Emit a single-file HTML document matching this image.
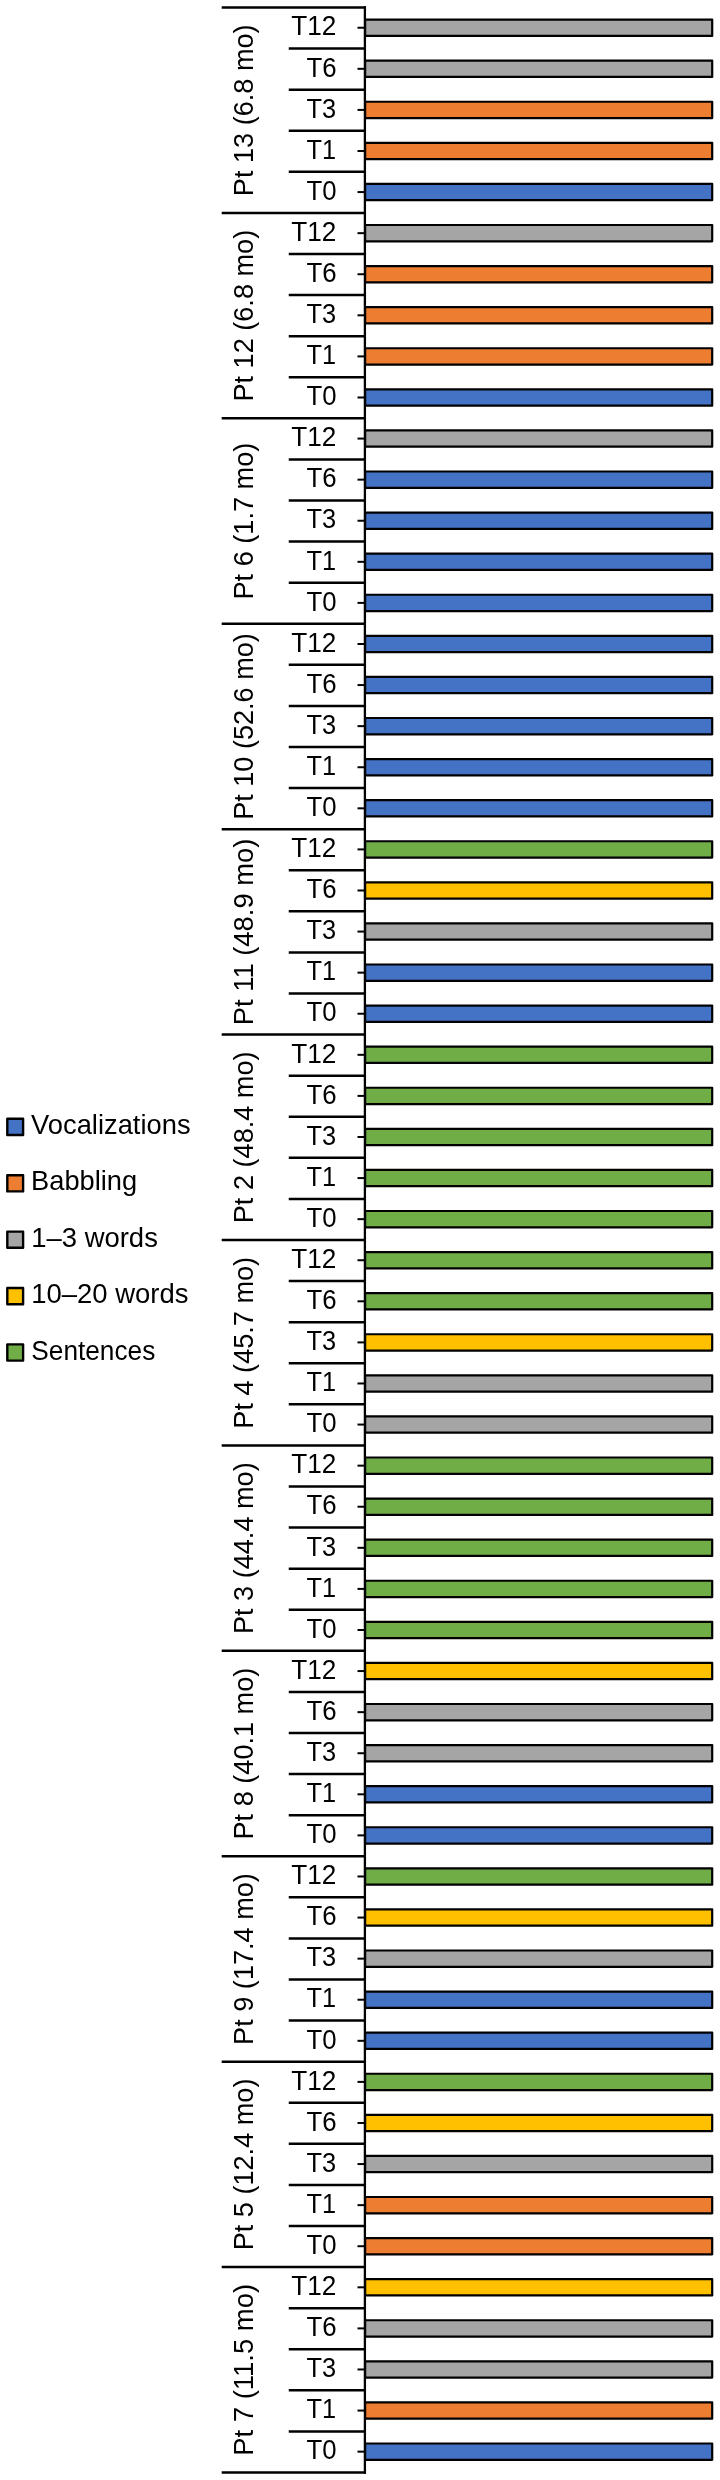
<!DOCTYPE html><html><head><meta charset="utf-8"><style>html,body{margin:0;padding:0;background:#fff;}svg{display:block;will-change:transform}text{font-family:"Liberation Sans",sans-serif;fill:#000;}</style></head><body>
<svg width="720" height="2480" viewBox="0 0 720 2480">
<rect width="720" height="2480" fill="#fff"/>
<rect x="365.10" y="19.59" width="347.10" height="16.30" fill="#A5A5A5" stroke="#000" stroke-width="2.2" stroke-linejoin="round"/>
<line x1="357.5" x2="365" y1="27.74" y2="27.74" stroke="#000" stroke-width="2"/>
<text x="291.22" y="35.49" font-size="27.5" textLength="45.09" lengthAdjust="spacingAndGlyphs">T12</text>
<rect x="365.10" y="60.67" width="347.10" height="16.30" fill="#A5A5A5" stroke="#000" stroke-width="2.2" stroke-linejoin="round"/>
<line x1="357.5" x2="365" y1="68.82" y2="68.82" stroke="#000" stroke-width="2"/>
<text x="306.58" y="76.57" font-size="27.5" textLength="30.16" lengthAdjust="spacingAndGlyphs">T6</text>
<line x1="288.75" x2="366" y1="48.58" y2="48.58" stroke="#000" stroke-width="2.5"/>
<rect x="365.10" y="101.76" width="347.10" height="16.30" fill="#ED7D31" stroke="#000" stroke-width="2.2" stroke-linejoin="round"/>
<line x1="357.5" x2="365" y1="109.91" y2="109.91" stroke="#000" stroke-width="2"/>
<text x="306.59" y="117.66" font-size="27.5" textLength="29.63" lengthAdjust="spacingAndGlyphs">T3</text>
<line x1="288.75" x2="366" y1="89.67" y2="89.67" stroke="#000" stroke-width="2.5"/>
<rect x="365.10" y="142.84" width="347.10" height="16.30" fill="#ED7D31" stroke="#000" stroke-width="2.2" stroke-linejoin="round"/>
<line x1="357.5" x2="365" y1="150.99" y2="150.99" stroke="#000" stroke-width="2"/>
<text x="306.59" y="158.74" font-size="27.5" textLength="29.55" lengthAdjust="spacingAndGlyphs">T1</text>
<line x1="288.75" x2="366" y1="130.75" y2="130.75" stroke="#000" stroke-width="2.5"/>
<rect x="365.10" y="183.92" width="347.10" height="16.30" fill="#4472C4" stroke="#000" stroke-width="2.2" stroke-linejoin="round"/>
<line x1="357.5" x2="365" y1="192.07" y2="192.07" stroke="#000" stroke-width="2"/>
<text x="306.58" y="199.82" font-size="27.5" textLength="30.02" lengthAdjust="spacingAndGlyphs">T0</text>
<line x1="288.75" x2="366" y1="171.83" y2="171.83" stroke="#000" stroke-width="2.5"/>
<line x1="221.7" x2="366" y1="7.50" y2="7.50" stroke="#000" stroke-width="2.5"/>
<text transform="translate(252.6 110.01) rotate(-90)" x="-86.15" y="0" font-size="27.5" textLength="171.75" lengthAdjust="spacingAndGlyphs">Pt 13 (6.8 mo)</text>
<rect x="365.10" y="225.01" width="347.10" height="16.30" fill="#A5A5A5" stroke="#000" stroke-width="2.2" stroke-linejoin="round"/>
<line x1="357.5" x2="365" y1="233.16" y2="233.16" stroke="#000" stroke-width="2"/>
<text x="291.22" y="240.91" font-size="27.5" textLength="45.09" lengthAdjust="spacingAndGlyphs">T12</text>
<rect x="365.10" y="266.09" width="347.10" height="16.30" fill="#ED7D31" stroke="#000" stroke-width="2.2" stroke-linejoin="round"/>
<line x1="357.5" x2="365" y1="274.24" y2="274.24" stroke="#000" stroke-width="2"/>
<text x="306.58" y="281.99" font-size="27.5" textLength="30.16" lengthAdjust="spacingAndGlyphs">T6</text>
<line x1="288.75" x2="366" y1="254.00" y2="254.00" stroke="#000" stroke-width="2.5"/>
<rect x="365.10" y="307.17" width="347.10" height="16.30" fill="#ED7D31" stroke="#000" stroke-width="2.2" stroke-linejoin="round"/>
<line x1="357.5" x2="365" y1="315.32" y2="315.32" stroke="#000" stroke-width="2"/>
<text x="306.59" y="323.07" font-size="27.5" textLength="29.63" lengthAdjust="spacingAndGlyphs">T3</text>
<line x1="288.75" x2="366" y1="295.08" y2="295.08" stroke="#000" stroke-width="2.5"/>
<rect x="365.10" y="348.26" width="347.10" height="16.30" fill="#ED7D31" stroke="#000" stroke-width="2.2" stroke-linejoin="round"/>
<line x1="357.5" x2="365" y1="356.41" y2="356.41" stroke="#000" stroke-width="2"/>
<text x="306.59" y="364.16" font-size="27.5" textLength="29.55" lengthAdjust="spacingAndGlyphs">T1</text>
<line x1="288.75" x2="366" y1="336.16" y2="336.16" stroke="#000" stroke-width="2.5"/>
<rect x="365.10" y="389.34" width="347.10" height="16.30" fill="#4472C4" stroke="#000" stroke-width="2.2" stroke-linejoin="round"/>
<line x1="357.5" x2="365" y1="397.49" y2="397.49" stroke="#000" stroke-width="2"/>
<text x="306.58" y="405.24" font-size="27.5" textLength="30.02" lengthAdjust="spacingAndGlyphs">T0</text>
<line x1="288.75" x2="366" y1="377.25" y2="377.25" stroke="#000" stroke-width="2.5"/>
<line x1="221.7" x2="366" y1="212.91" y2="212.91" stroke="#000" stroke-width="2.5"/>
<text transform="translate(252.6 315.42) rotate(-90)" x="-86.15" y="0" font-size="27.5" textLength="171.75" lengthAdjust="spacingAndGlyphs">Pt 12 (6.8 mo)</text>
<rect x="365.10" y="430.42" width="347.10" height="16.30" fill="#A5A5A5" stroke="#000" stroke-width="2.2" stroke-linejoin="round"/>
<line x1="357.5" x2="365" y1="438.57" y2="438.57" stroke="#000" stroke-width="2"/>
<text x="291.22" y="446.32" font-size="27.5" textLength="45.09" lengthAdjust="spacingAndGlyphs">T12</text>
<rect x="365.10" y="471.50" width="347.10" height="16.30" fill="#4472C4" stroke="#000" stroke-width="2.2" stroke-linejoin="round"/>
<line x1="357.5" x2="365" y1="479.65" y2="479.65" stroke="#000" stroke-width="2"/>
<text x="306.58" y="487.40" font-size="27.5" textLength="30.16" lengthAdjust="spacingAndGlyphs">T6</text>
<line x1="288.75" x2="366" y1="459.41" y2="459.41" stroke="#000" stroke-width="2.5"/>
<rect x="365.10" y="512.59" width="347.10" height="16.30" fill="#4472C4" stroke="#000" stroke-width="2.2" stroke-linejoin="round"/>
<line x1="357.5" x2="365" y1="520.74" y2="520.74" stroke="#000" stroke-width="2"/>
<text x="306.59" y="528.49" font-size="27.5" textLength="29.63" lengthAdjust="spacingAndGlyphs">T3</text>
<line x1="288.75" x2="366" y1="500.50" y2="500.50" stroke="#000" stroke-width="2.5"/>
<rect x="365.10" y="553.67" width="347.10" height="16.30" fill="#4472C4" stroke="#000" stroke-width="2.2" stroke-linejoin="round"/>
<line x1="357.5" x2="365" y1="561.82" y2="561.82" stroke="#000" stroke-width="2"/>
<text x="306.59" y="569.57" font-size="27.5" textLength="29.55" lengthAdjust="spacingAndGlyphs">T1</text>
<line x1="288.75" x2="366" y1="541.58" y2="541.58" stroke="#000" stroke-width="2.5"/>
<rect x="365.10" y="594.75" width="347.10" height="16.30" fill="#4472C4" stroke="#000" stroke-width="2.2" stroke-linejoin="round"/>
<line x1="357.5" x2="365" y1="602.90" y2="602.90" stroke="#000" stroke-width="2"/>
<text x="306.58" y="610.65" font-size="27.5" textLength="30.02" lengthAdjust="spacingAndGlyphs">T0</text>
<line x1="288.75" x2="366" y1="582.66" y2="582.66" stroke="#000" stroke-width="2.5"/>
<line x1="221.7" x2="366" y1="418.33" y2="418.33" stroke="#000" stroke-width="2.5"/>
<text transform="translate(252.6 520.84) rotate(-90)" x="-78.72" y="0" font-size="27.5" textLength="156.90" lengthAdjust="spacingAndGlyphs">Pt 6 (1.7 mo)</text>
<rect x="365.10" y="635.84" width="347.10" height="16.30" fill="#4472C4" stroke="#000" stroke-width="2.2" stroke-linejoin="round"/>
<line x1="357.5" x2="365" y1="643.99" y2="643.99" stroke="#000" stroke-width="2"/>
<text x="291.22" y="651.74" font-size="27.5" textLength="45.09" lengthAdjust="spacingAndGlyphs">T12</text>
<rect x="365.10" y="676.92" width="347.10" height="16.30" fill="#4472C4" stroke="#000" stroke-width="2.2" stroke-linejoin="round"/>
<line x1="357.5" x2="365" y1="685.07" y2="685.07" stroke="#000" stroke-width="2"/>
<text x="306.58" y="692.82" font-size="27.5" textLength="30.16" lengthAdjust="spacingAndGlyphs">T6</text>
<line x1="288.75" x2="366" y1="664.83" y2="664.83" stroke="#000" stroke-width="2.5"/>
<rect x="365.10" y="718.00" width="347.10" height="16.30" fill="#4472C4" stroke="#000" stroke-width="2.2" stroke-linejoin="round"/>
<line x1="357.5" x2="365" y1="726.15" y2="726.15" stroke="#000" stroke-width="2"/>
<text x="306.59" y="733.90" font-size="27.5" textLength="29.63" lengthAdjust="spacingAndGlyphs">T3</text>
<line x1="288.75" x2="366" y1="705.91" y2="705.91" stroke="#000" stroke-width="2.5"/>
<rect x="365.10" y="759.09" width="347.10" height="16.30" fill="#4472C4" stroke="#000" stroke-width="2.2" stroke-linejoin="round"/>
<line x1="357.5" x2="365" y1="767.24" y2="767.24" stroke="#000" stroke-width="2"/>
<text x="306.59" y="774.99" font-size="27.5" textLength="29.55" lengthAdjust="spacingAndGlyphs">T1</text>
<line x1="288.75" x2="366" y1="746.99" y2="746.99" stroke="#000" stroke-width="2.5"/>
<rect x="365.10" y="800.17" width="347.10" height="16.30" fill="#4472C4" stroke="#000" stroke-width="2.2" stroke-linejoin="round"/>
<line x1="357.5" x2="365" y1="808.32" y2="808.32" stroke="#000" stroke-width="2"/>
<text x="306.58" y="816.07" font-size="27.5" textLength="30.02" lengthAdjust="spacingAndGlyphs">T0</text>
<line x1="288.75" x2="366" y1="788.08" y2="788.08" stroke="#000" stroke-width="2.5"/>
<line x1="221.7" x2="366" y1="623.75" y2="623.75" stroke="#000" stroke-width="2.5"/>
<text transform="translate(252.6 726.25) rotate(-90)" x="-93.57" y="0" font-size="27.5" textLength="186.60" lengthAdjust="spacingAndGlyphs">Pt 10 (52.6 mo)</text>
<rect x="365.10" y="841.25" width="347.10" height="16.30" fill="#70AD47" stroke="#000" stroke-width="2.2" stroke-linejoin="round"/>
<line x1="357.5" x2="365" y1="849.40" y2="849.40" stroke="#000" stroke-width="2"/>
<text x="291.22" y="857.15" font-size="27.5" textLength="45.09" lengthAdjust="spacingAndGlyphs">T12</text>
<rect x="365.10" y="882.33" width="347.10" height="16.30" fill="#FFC000" stroke="#000" stroke-width="2.2" stroke-linejoin="round"/>
<line x1="357.5" x2="365" y1="890.48" y2="890.48" stroke="#000" stroke-width="2"/>
<text x="306.58" y="898.23" font-size="27.5" textLength="30.16" lengthAdjust="spacingAndGlyphs">T6</text>
<line x1="288.75" x2="366" y1="870.24" y2="870.24" stroke="#000" stroke-width="2.5"/>
<rect x="365.10" y="923.42" width="347.10" height="16.30" fill="#A5A5A5" stroke="#000" stroke-width="2.2" stroke-linejoin="round"/>
<line x1="357.5" x2="365" y1="931.57" y2="931.57" stroke="#000" stroke-width="2"/>
<text x="306.59" y="939.32" font-size="27.5" textLength="29.63" lengthAdjust="spacingAndGlyphs">T3</text>
<line x1="288.75" x2="366" y1="911.33" y2="911.33" stroke="#000" stroke-width="2.5"/>
<rect x="365.10" y="964.50" width="347.10" height="16.30" fill="#4472C4" stroke="#000" stroke-width="2.2" stroke-linejoin="round"/>
<line x1="357.5" x2="365" y1="972.65" y2="972.65" stroke="#000" stroke-width="2"/>
<text x="306.59" y="980.40" font-size="27.5" textLength="29.55" lengthAdjust="spacingAndGlyphs">T1</text>
<line x1="288.75" x2="366" y1="952.41" y2="952.41" stroke="#000" stroke-width="2.5"/>
<rect x="365.10" y="1005.58" width="347.10" height="16.30" fill="#4472C4" stroke="#000" stroke-width="2.2" stroke-linejoin="round"/>
<line x1="357.5" x2="365" y1="1013.73" y2="1013.73" stroke="#000" stroke-width="2"/>
<text x="306.58" y="1021.48" font-size="27.5" textLength="30.02" lengthAdjust="spacingAndGlyphs">T0</text>
<line x1="288.75" x2="366" y1="993.49" y2="993.49" stroke="#000" stroke-width="2.5"/>
<line x1="221.7" x2="366" y1="829.16" y2="829.16" stroke="#000" stroke-width="2.5"/>
<text transform="translate(252.6 931.67) rotate(-90)" x="-93.59" y="0" font-size="27.5" textLength="186.64" lengthAdjust="spacingAndGlyphs">Pt 11 (48.9 mo)</text>
<rect x="365.10" y="1046.67" width="347.10" height="16.30" fill="#70AD47" stroke="#000" stroke-width="2.2" stroke-linejoin="round"/>
<line x1="357.5" x2="365" y1="1054.82" y2="1054.82" stroke="#000" stroke-width="2"/>
<text x="291.22" y="1062.57" font-size="27.5" textLength="45.09" lengthAdjust="spacingAndGlyphs">T12</text>
<rect x="365.10" y="1087.75" width="347.10" height="16.30" fill="#70AD47" stroke="#000" stroke-width="2.2" stroke-linejoin="round"/>
<line x1="357.5" x2="365" y1="1095.90" y2="1095.90" stroke="#000" stroke-width="2"/>
<text x="306.58" y="1103.65" font-size="27.5" textLength="30.16" lengthAdjust="spacingAndGlyphs">T6</text>
<line x1="288.75" x2="366" y1="1075.66" y2="1075.66" stroke="#000" stroke-width="2.5"/>
<rect x="365.10" y="1128.83" width="347.10" height="16.30" fill="#70AD47" stroke="#000" stroke-width="2.2" stroke-linejoin="round"/>
<line x1="357.5" x2="365" y1="1136.98" y2="1136.98" stroke="#000" stroke-width="2"/>
<text x="306.59" y="1144.73" font-size="27.5" textLength="29.63" lengthAdjust="spacingAndGlyphs">T3</text>
<line x1="288.75" x2="366" y1="1116.74" y2="1116.74" stroke="#000" stroke-width="2.5"/>
<rect x="365.10" y="1169.92" width="347.10" height="16.30" fill="#70AD47" stroke="#000" stroke-width="2.2" stroke-linejoin="round"/>
<line x1="357.5" x2="365" y1="1178.07" y2="1178.07" stroke="#000" stroke-width="2"/>
<text x="306.59" y="1185.82" font-size="27.5" textLength="29.55" lengthAdjust="spacingAndGlyphs">T1</text>
<line x1="288.75" x2="366" y1="1157.82" y2="1157.82" stroke="#000" stroke-width="2.5"/>
<rect x="365.10" y="1211.00" width="347.10" height="16.30" fill="#70AD47" stroke="#000" stroke-width="2.2" stroke-linejoin="round"/>
<line x1="357.5" x2="365" y1="1219.15" y2="1219.15" stroke="#000" stroke-width="2"/>
<text x="306.58" y="1226.90" font-size="27.5" textLength="30.02" lengthAdjust="spacingAndGlyphs">T0</text>
<line x1="288.75" x2="366" y1="1198.91" y2="1198.91" stroke="#000" stroke-width="2.5"/>
<line x1="221.7" x2="366" y1="1034.58" y2="1034.58" stroke="#000" stroke-width="2.5"/>
<text transform="translate(252.6 1137.08) rotate(-90)" x="-86.15" y="0" font-size="27.5" textLength="171.75" lengthAdjust="spacingAndGlyphs">Pt 2 (48.4 mo)</text>
<rect x="365.10" y="1252.08" width="347.10" height="16.30" fill="#70AD47" stroke="#000" stroke-width="2.2" stroke-linejoin="round"/>
<line x1="357.5" x2="365" y1="1260.23" y2="1260.23" stroke="#000" stroke-width="2"/>
<text x="291.22" y="1267.98" font-size="27.5" textLength="45.09" lengthAdjust="spacingAndGlyphs">T12</text>
<rect x="365.10" y="1293.16" width="347.10" height="16.30" fill="#70AD47" stroke="#000" stroke-width="2.2" stroke-linejoin="round"/>
<line x1="357.5" x2="365" y1="1301.31" y2="1301.31" stroke="#000" stroke-width="2"/>
<text x="306.58" y="1309.06" font-size="27.5" textLength="30.16" lengthAdjust="spacingAndGlyphs">T6</text>
<line x1="288.75" x2="366" y1="1281.07" y2="1281.07" stroke="#000" stroke-width="2.5"/>
<rect x="365.10" y="1334.25" width="347.10" height="16.30" fill="#FFC000" stroke="#000" stroke-width="2.2" stroke-linejoin="round"/>
<line x1="357.5" x2="365" y1="1342.40" y2="1342.40" stroke="#000" stroke-width="2"/>
<text x="306.59" y="1350.15" font-size="27.5" textLength="29.63" lengthAdjust="spacingAndGlyphs">T3</text>
<line x1="288.75" x2="366" y1="1322.16" y2="1322.16" stroke="#000" stroke-width="2.5"/>
<rect x="365.10" y="1375.33" width="347.10" height="16.30" fill="#A5A5A5" stroke="#000" stroke-width="2.2" stroke-linejoin="round"/>
<line x1="357.5" x2="365" y1="1383.48" y2="1383.48" stroke="#000" stroke-width="2"/>
<text x="306.59" y="1391.23" font-size="27.5" textLength="29.55" lengthAdjust="spacingAndGlyphs">T1</text>
<line x1="288.75" x2="366" y1="1363.24" y2="1363.24" stroke="#000" stroke-width="2.5"/>
<rect x="365.10" y="1416.41" width="347.10" height="16.30" fill="#A5A5A5" stroke="#000" stroke-width="2.2" stroke-linejoin="round"/>
<line x1="357.5" x2="365" y1="1424.56" y2="1424.56" stroke="#000" stroke-width="2"/>
<text x="306.58" y="1432.31" font-size="27.5" textLength="30.02" lengthAdjust="spacingAndGlyphs">T0</text>
<line x1="288.75" x2="366" y1="1404.32" y2="1404.32" stroke="#000" stroke-width="2.5"/>
<line x1="221.7" x2="366" y1="1239.99" y2="1239.99" stroke="#000" stroke-width="2.5"/>
<text transform="translate(252.6 1342.50) rotate(-90)" x="-86.15" y="0" font-size="27.5" textLength="171.75" lengthAdjust="spacingAndGlyphs">Pt 4 (45.7 mo)</text>
<rect x="365.10" y="1457.50" width="347.10" height="16.30" fill="#70AD47" stroke="#000" stroke-width="2.2" stroke-linejoin="round"/>
<line x1="357.5" x2="365" y1="1465.65" y2="1465.65" stroke="#000" stroke-width="2"/>
<text x="291.22" y="1473.40" font-size="27.5" textLength="45.09" lengthAdjust="spacingAndGlyphs">T12</text>
<rect x="365.10" y="1498.58" width="347.10" height="16.30" fill="#70AD47" stroke="#000" stroke-width="2.2" stroke-linejoin="round"/>
<line x1="357.5" x2="365" y1="1506.73" y2="1506.73" stroke="#000" stroke-width="2"/>
<text x="306.58" y="1514.48" font-size="27.5" textLength="30.16" lengthAdjust="spacingAndGlyphs">T6</text>
<line x1="288.75" x2="366" y1="1486.49" y2="1486.49" stroke="#000" stroke-width="2.5"/>
<rect x="365.10" y="1539.66" width="347.10" height="16.30" fill="#70AD47" stroke="#000" stroke-width="2.2" stroke-linejoin="round"/>
<line x1="357.5" x2="365" y1="1547.81" y2="1547.81" stroke="#000" stroke-width="2"/>
<text x="306.59" y="1555.56" font-size="27.5" textLength="29.63" lengthAdjust="spacingAndGlyphs">T3</text>
<line x1="288.75" x2="366" y1="1527.57" y2="1527.57" stroke="#000" stroke-width="2.5"/>
<rect x="365.10" y="1580.75" width="347.10" height="16.30" fill="#70AD47" stroke="#000" stroke-width="2.2" stroke-linejoin="round"/>
<line x1="357.5" x2="365" y1="1588.90" y2="1588.90" stroke="#000" stroke-width="2"/>
<text x="306.59" y="1596.65" font-size="27.5" textLength="29.55" lengthAdjust="spacingAndGlyphs">T1</text>
<line x1="288.75" x2="366" y1="1568.65" y2="1568.65" stroke="#000" stroke-width="2.5"/>
<rect x="365.10" y="1621.83" width="347.10" height="16.30" fill="#70AD47" stroke="#000" stroke-width="2.2" stroke-linejoin="round"/>
<line x1="357.5" x2="365" y1="1629.98" y2="1629.98" stroke="#000" stroke-width="2"/>
<text x="306.58" y="1637.73" font-size="27.5" textLength="30.02" lengthAdjust="spacingAndGlyphs">T0</text>
<line x1="288.75" x2="366" y1="1609.74" y2="1609.74" stroke="#000" stroke-width="2.5"/>
<line x1="221.7" x2="366" y1="1445.40" y2="1445.40" stroke="#000" stroke-width="2.5"/>
<text transform="translate(252.6 1547.91) rotate(-90)" x="-86.15" y="0" font-size="27.5" textLength="171.75" lengthAdjust="spacingAndGlyphs">Pt 3 (44.4 mo)</text>
<rect x="365.10" y="1662.91" width="347.10" height="16.30" fill="#FFC000" stroke="#000" stroke-width="2.2" stroke-linejoin="round"/>
<line x1="357.5" x2="365" y1="1671.06" y2="1671.06" stroke="#000" stroke-width="2"/>
<text x="291.22" y="1678.81" font-size="27.5" textLength="45.09" lengthAdjust="spacingAndGlyphs">T12</text>
<rect x="365.10" y="1703.99" width="347.10" height="16.30" fill="#A5A5A5" stroke="#000" stroke-width="2.2" stroke-linejoin="round"/>
<line x1="357.5" x2="365" y1="1712.14" y2="1712.14" stroke="#000" stroke-width="2"/>
<text x="306.58" y="1719.89" font-size="27.5" textLength="30.16" lengthAdjust="spacingAndGlyphs">T6</text>
<line x1="288.75" x2="366" y1="1691.90" y2="1691.90" stroke="#000" stroke-width="2.5"/>
<rect x="365.10" y="1745.08" width="347.10" height="16.30" fill="#A5A5A5" stroke="#000" stroke-width="2.2" stroke-linejoin="round"/>
<line x1="357.5" x2="365" y1="1753.23" y2="1753.23" stroke="#000" stroke-width="2"/>
<text x="306.59" y="1760.98" font-size="27.5" textLength="29.63" lengthAdjust="spacingAndGlyphs">T3</text>
<line x1="288.75" x2="366" y1="1732.99" y2="1732.99" stroke="#000" stroke-width="2.5"/>
<rect x="365.10" y="1786.16" width="347.10" height="16.30" fill="#4472C4" stroke="#000" stroke-width="2.2" stroke-linejoin="round"/>
<line x1="357.5" x2="365" y1="1794.31" y2="1794.31" stroke="#000" stroke-width="2"/>
<text x="306.59" y="1802.06" font-size="27.5" textLength="29.55" lengthAdjust="spacingAndGlyphs">T1</text>
<line x1="288.75" x2="366" y1="1774.07" y2="1774.07" stroke="#000" stroke-width="2.5"/>
<rect x="365.10" y="1827.24" width="347.10" height="16.30" fill="#4472C4" stroke="#000" stroke-width="2.2" stroke-linejoin="round"/>
<line x1="357.5" x2="365" y1="1835.39" y2="1835.39" stroke="#000" stroke-width="2"/>
<text x="306.58" y="1843.14" font-size="27.5" textLength="30.02" lengthAdjust="spacingAndGlyphs">T0</text>
<line x1="288.75" x2="366" y1="1815.15" y2="1815.15" stroke="#000" stroke-width="2.5"/>
<line x1="221.7" x2="366" y1="1650.82" y2="1650.82" stroke="#000" stroke-width="2.5"/>
<text transform="translate(252.6 1753.33) rotate(-90)" x="-86.15" y="0" font-size="27.5" textLength="171.75" lengthAdjust="spacingAndGlyphs">Pt 8 (40.1 mo)</text>
<rect x="365.10" y="1868.33" width="347.10" height="16.30" fill="#70AD47" stroke="#000" stroke-width="2.2" stroke-linejoin="round"/>
<line x1="357.5" x2="365" y1="1876.48" y2="1876.48" stroke="#000" stroke-width="2"/>
<text x="291.22" y="1884.23" font-size="27.5" textLength="45.09" lengthAdjust="spacingAndGlyphs">T12</text>
<rect x="365.10" y="1909.41" width="347.10" height="16.30" fill="#FFC000" stroke="#000" stroke-width="2.2" stroke-linejoin="round"/>
<line x1="357.5" x2="365" y1="1917.56" y2="1917.56" stroke="#000" stroke-width="2"/>
<text x="306.58" y="1925.31" font-size="27.5" textLength="30.16" lengthAdjust="spacingAndGlyphs">T6</text>
<line x1="288.75" x2="366" y1="1897.32" y2="1897.32" stroke="#000" stroke-width="2.5"/>
<rect x="365.10" y="1950.49" width="347.10" height="16.30" fill="#A5A5A5" stroke="#000" stroke-width="2.2" stroke-linejoin="round"/>
<line x1="357.5" x2="365" y1="1958.64" y2="1958.64" stroke="#000" stroke-width="2"/>
<text x="306.59" y="1966.39" font-size="27.5" textLength="29.63" lengthAdjust="spacingAndGlyphs">T3</text>
<line x1="288.75" x2="366" y1="1938.40" y2="1938.40" stroke="#000" stroke-width="2.5"/>
<rect x="365.10" y="1991.58" width="347.10" height="16.30" fill="#4472C4" stroke="#000" stroke-width="2.2" stroke-linejoin="round"/>
<line x1="357.5" x2="365" y1="1999.73" y2="1999.73" stroke="#000" stroke-width="2"/>
<text x="306.59" y="2007.48" font-size="27.5" textLength="29.55" lengthAdjust="spacingAndGlyphs">T1</text>
<line x1="288.75" x2="366" y1="1979.48" y2="1979.48" stroke="#000" stroke-width="2.5"/>
<rect x="365.10" y="2032.66" width="347.10" height="16.30" fill="#4472C4" stroke="#000" stroke-width="2.2" stroke-linejoin="round"/>
<line x1="357.5" x2="365" y1="2040.81" y2="2040.81" stroke="#000" stroke-width="2"/>
<text x="306.58" y="2048.56" font-size="27.5" textLength="30.02" lengthAdjust="spacingAndGlyphs">T0</text>
<line x1="288.75" x2="366" y1="2020.57" y2="2020.57" stroke="#000" stroke-width="2.5"/>
<line x1="221.7" x2="366" y1="1856.23" y2="1856.23" stroke="#000" stroke-width="2.5"/>
<text transform="translate(252.6 1958.74) rotate(-90)" x="-86.15" y="0" font-size="27.5" textLength="171.75" lengthAdjust="spacingAndGlyphs">Pt 9 (17.4 mo)</text>
<rect x="365.10" y="2073.74" width="347.10" height="16.30" fill="#70AD47" stroke="#000" stroke-width="2.2" stroke-linejoin="round"/>
<line x1="357.5" x2="365" y1="2081.89" y2="2081.89" stroke="#000" stroke-width="2"/>
<text x="291.22" y="2089.64" font-size="27.5" textLength="45.09" lengthAdjust="spacingAndGlyphs">T12</text>
<rect x="365.10" y="2114.82" width="347.10" height="16.30" fill="#FFC000" stroke="#000" stroke-width="2.2" stroke-linejoin="round"/>
<line x1="357.5" x2="365" y1="2122.97" y2="2122.97" stroke="#000" stroke-width="2"/>
<text x="306.58" y="2130.72" font-size="27.5" textLength="30.16" lengthAdjust="spacingAndGlyphs">T6</text>
<line x1="288.75" x2="366" y1="2102.73" y2="2102.73" stroke="#000" stroke-width="2.5"/>
<rect x="365.10" y="2155.91" width="347.10" height="16.30" fill="#A5A5A5" stroke="#000" stroke-width="2.2" stroke-linejoin="round"/>
<line x1="357.5" x2="365" y1="2164.06" y2="2164.06" stroke="#000" stroke-width="2"/>
<text x="306.59" y="2171.81" font-size="27.5" textLength="29.63" lengthAdjust="spacingAndGlyphs">T3</text>
<line x1="288.75" x2="366" y1="2143.82" y2="2143.82" stroke="#000" stroke-width="2.5"/>
<rect x="365.10" y="2196.99" width="347.10" height="16.30" fill="#ED7D31" stroke="#000" stroke-width="2.2" stroke-linejoin="round"/>
<line x1="357.5" x2="365" y1="2205.14" y2="2205.14" stroke="#000" stroke-width="2"/>
<text x="306.59" y="2212.89" font-size="27.5" textLength="29.55" lengthAdjust="spacingAndGlyphs">T1</text>
<line x1="288.75" x2="366" y1="2184.90" y2="2184.90" stroke="#000" stroke-width="2.5"/>
<rect x="365.10" y="2238.07" width="347.10" height="16.30" fill="#ED7D31" stroke="#000" stroke-width="2.2" stroke-linejoin="round"/>
<line x1="357.5" x2="365" y1="2246.22" y2="2246.22" stroke="#000" stroke-width="2"/>
<text x="306.58" y="2253.97" font-size="27.5" textLength="30.02" lengthAdjust="spacingAndGlyphs">T0</text>
<line x1="288.75" x2="366" y1="2225.98" y2="2225.98" stroke="#000" stroke-width="2.5"/>
<line x1="221.7" x2="366" y1="2061.65" y2="2061.65" stroke="#000" stroke-width="2.5"/>
<text transform="translate(252.6 2164.16) rotate(-90)" x="-86.15" y="0" font-size="27.5" textLength="171.75" lengthAdjust="spacingAndGlyphs">Pt 5 (12.4 mo)</text>
<rect x="365.10" y="2279.16" width="347.10" height="16.30" fill="#FFC000" stroke="#000" stroke-width="2.2" stroke-linejoin="round"/>
<line x1="357.5" x2="365" y1="2287.31" y2="2287.31" stroke="#000" stroke-width="2"/>
<text x="291.22" y="2295.06" font-size="27.5" textLength="45.09" lengthAdjust="spacingAndGlyphs">T12</text>
<rect x="365.10" y="2320.24" width="347.10" height="16.30" fill="#A5A5A5" stroke="#000" stroke-width="2.2" stroke-linejoin="round"/>
<line x1="357.5" x2="365" y1="2328.39" y2="2328.39" stroke="#000" stroke-width="2"/>
<text x="306.58" y="2336.14" font-size="27.5" textLength="30.16" lengthAdjust="spacingAndGlyphs">T6</text>
<line x1="288.75" x2="366" y1="2308.15" y2="2308.15" stroke="#000" stroke-width="2.5"/>
<rect x="365.10" y="2361.32" width="347.10" height="16.30" fill="#A5A5A5" stroke="#000" stroke-width="2.2" stroke-linejoin="round"/>
<line x1="357.5" x2="365" y1="2369.47" y2="2369.47" stroke="#000" stroke-width="2"/>
<text x="306.59" y="2377.22" font-size="27.5" textLength="29.63" lengthAdjust="spacingAndGlyphs">T3</text>
<line x1="288.75" x2="366" y1="2349.23" y2="2349.23" stroke="#000" stroke-width="2.5"/>
<rect x="365.10" y="2402.41" width="347.10" height="16.30" fill="#ED7D31" stroke="#000" stroke-width="2.2" stroke-linejoin="round"/>
<line x1="357.5" x2="365" y1="2410.56" y2="2410.56" stroke="#000" stroke-width="2"/>
<text x="306.59" y="2418.31" font-size="27.5" textLength="29.55" lengthAdjust="spacingAndGlyphs">T1</text>
<line x1="288.75" x2="366" y1="2390.31" y2="2390.31" stroke="#000" stroke-width="2.5"/>
<rect x="365.10" y="2443.49" width="347.10" height="16.30" fill="#4472C4" stroke="#000" stroke-width="2.2" stroke-linejoin="round"/>
<line x1="357.5" x2="365" y1="2451.64" y2="2451.64" stroke="#000" stroke-width="2"/>
<text x="306.58" y="2459.39" font-size="27.5" textLength="30.02" lengthAdjust="spacingAndGlyphs">T0</text>
<line x1="288.75" x2="366" y1="2431.40" y2="2431.40" stroke="#000" stroke-width="2.5"/>
<line x1="221.7" x2="366" y1="2267.07" y2="2267.07" stroke="#000" stroke-width="2.5"/>
<text transform="translate(252.6 2369.57) rotate(-90)" x="-86.17" y="0" font-size="27.5" textLength="171.79" lengthAdjust="spacingAndGlyphs">Pt 7 (11.5 mo)</text>
<line x1="221.7" x2="366" y1="2472.48" y2="2472.48" stroke="#000" stroke-width="2.5"/>
<line x1="364.9" x2="364.9" y1="6.3" y2="2473.68" stroke="#000" stroke-width="2.3"/>
<rect x="7.30" y="1118.80" width="15.80" height="16.20" fill="#4472C4" stroke="#000" stroke-width="2.4" stroke-linejoin="round"/>
<text x="31.11" y="1133.90" font-size="27.5" textLength="159.47" lengthAdjust="spacingAndGlyphs">Vocalizations</text>
<rect x="7.30" y="1175.20" width="15.80" height="16.20" fill="#ED7D31" stroke="#000" stroke-width="2.4" stroke-linejoin="round"/>
<text x="31.07" y="1190.30" font-size="27.5" textLength="106.08" lengthAdjust="spacingAndGlyphs">Babbling</text>
<rect x="7.30" y="1231.60" width="15.80" height="16.20" fill="#A5A5A5" stroke="#000" stroke-width="2.4" stroke-linejoin="round"/>
<text x="31.21" y="1246.70" font-size="27.5" textLength="126.67" lengthAdjust="spacingAndGlyphs">1–3 words</text>
<rect x="7.30" y="1288.00" width="15.80" height="16.20" fill="#FFC000" stroke="#000" stroke-width="2.4" stroke-linejoin="round"/>
<text x="31.21" y="1303.10" font-size="27.5" textLength="157.28" lengthAdjust="spacingAndGlyphs">10–20 words</text>
<rect x="7.30" y="1344.40" width="15.80" height="16.20" fill="#70AD47" stroke="#000" stroke-width="2.4" stroke-linejoin="round"/>
<text x="31.29" y="1359.50" font-size="27.5" textLength="124.04" lengthAdjust="spacingAndGlyphs">Sentences</text>
</svg></body></html>
